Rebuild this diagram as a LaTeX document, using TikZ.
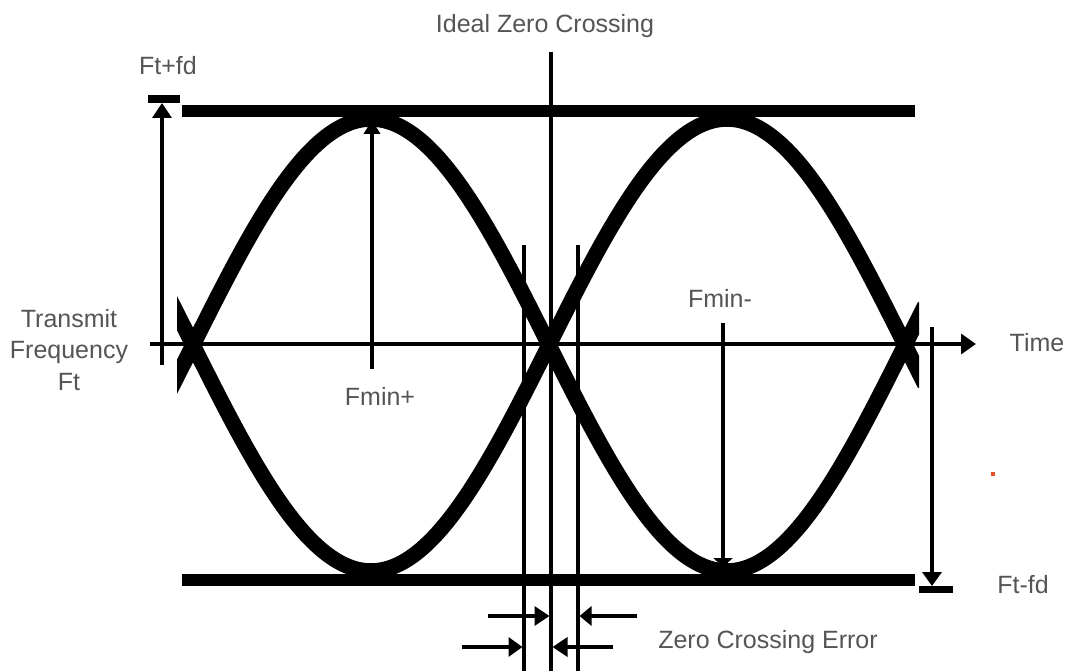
\documentclass[tikz,border=0pt]{standalone}
\usepackage{fontspec}
\setmainfont{Liberation Sans}
\usetikzlibrary{arrows.meta}
\definecolor{txtgray}{RGB}{85,85,85}
\definecolor{dotred}{RGB}{232,80,42}
\begin{document}
\begin{tikzpicture}[x=1pt,y=-1pt,
  lbl/.style={font=\fontsize{25}{31.5}\selectfont, text=txtgray, inner sep=0pt, anchor=base},
  ln/.style={line width=3.5pt},
  wave/.style={line width=15.5pt, line join=round},
  barline/.style={line width=12pt}]
\useasboundingbox (0,0) rectangle (1071,671);
\fill[white] (0,0) rectangle (1071,671);

% named points
\coordinate (axL) at (150,344);
\coordinate (axR) at (976,344);
\coordinate (topL) at (182,111);
\coordinate (topR) at (915,111);
\coordinate (botL) at (182,580);
\coordinate (botR) at (915,580);

% waveforms
\begin{scope}
  \clip (177,0) rectangle (919,671);
  \draw[wave] plot[domain=170:925, samples=240] (\x, {345-226*sin((\x-193)*0.505618)});
  \draw[wave] plot[domain=170:925, samples=240] (\x, {345+226*sin((\x-193)*0.505618)});
\end{scope}

% limit bars
\draw[barline] (topL) -- (topR);
\draw[barline] (botL) -- (botR);

% time axis
\draw[ln, -{Triangle[length=15pt,width=20pt]}] (axL) -- (axR);

% vertical reference lines
\coordinate (cTop) at (551,52);
\coordinate (cBot) at (551,671);
\coordinate (lTop) at (524,245);
\coordinate (lBot) at (524,671);
\coordinate (rTop) at (578,245);
\coordinate (rBot) at (578,671);
\draw[ln] (cTop) -- (cBot);
\draw[ln] (lTop) -- (lBot);
\draw[ln] (rTop) -- (rBot);

% Ft+fd arrow with bar
\coordinate (ftA) at (162,365);
\coordinate (ftB) at (162,103);
\draw[ln, -{Triangle[length=15pt,width=19pt]}] (ftA) -- (ftB);
\fill (148,95) rectangle (180,103);

% Ft-fd arrow with bar
\coordinate (fdA) at (932,327);
\coordinate (fdB) at (932,586);
\draw[ln, -{Triangle[length=14pt,width=19pt]}] (fdA) -- (fdB);
\fill (919,586) rectangle (953,593);

% Fmin+ / Fmin- arrows
\coordinate (fpA) at (372,369);
\coordinate (fpB) at (372,120);
\draw[ln, -{Triangle[length=14pt,width=16pt]}] (fpA) -- (fpB);
\coordinate (fmA) at (723,323);
\coordinate (fmB) at (723,567);
\draw[ln, -{Triangle[length=9pt,width=19pt]}] (fmA) -- (fmB);

% zero crossing error arrows
\coordinate (u1) at (488,616);
\coordinate (u2) at (549.5,616);
\coordinate (u3) at (637,616);
\coordinate (u4) at (579.5,616);
\draw[ln, -{Triangle[length=15pt,width=19pt]}] (u1) -- (u2);
\draw[ln, -{Triangle[length=12pt,width=19pt]}] (u3) -- (u4);
\coordinate (d1) at (462,647);
\coordinate (d2) at (522.5,647);
\coordinate (d3) at (613,647);
\coordinate (d4) at (552.5,647);
\draw[ln, -{Triangle[length=14pt,width=19pt]}] (d1) -- (d2);
\draw[ln, -{Triangle[length=15pt,width=19pt]}] (d3) -- (d4);

% labels
\node[lbl] (ideal) at (545,33) {Ideal Zero Crossing};
\node[lbl] (ftfd) at (168,75) {Ft+fd};
\node[lbl] (tx1) at (69,327) {Transmit};
\node[lbl] (tx2) at (69,358) {Frequency};
\node[lbl] (tx3) at (69,390) {Ft};
\node[lbl] (time) at (1037,351) {Time};
\node[lbl] (fminp) at (380,405) {Fmin+};
\node[lbl] (fminm) at (720,307) {Fmin-};
\node[lbl] (ftmfd) at (1023,593) {Ft-fd};
\node[lbl] (zce) at (768,648) {Zero Crossing Error};

% stray dot
\fill[dotred] (991,472) rectangle (995,476);
\end{tikzpicture}
\end{document}
